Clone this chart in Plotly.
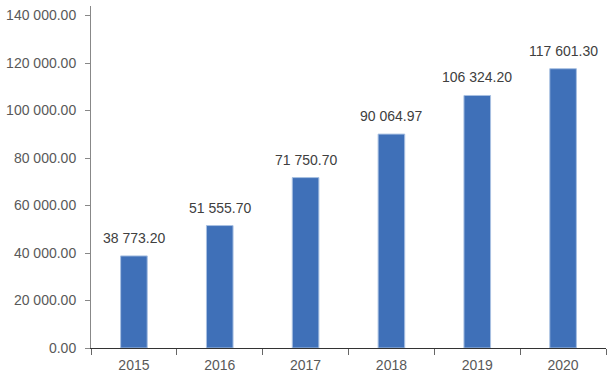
import plotly.graph_objects as go

years = ["2015", "2016", "2017", "2018", "2019", "2020"]
values = [38773.20, 51555.70, 71750.70, 90064.97, 106324.20, 117601.30]
y_ticks = [0, 20000, 40000, 60000, 80000, 100000, 120000, 140000]

def fmt(v):
    return f"{v:,.2f}".replace(",", " ")

fig = go.Figure(go.Bar(
    x=years, y=values,
    marker=dict(color="#3F70B8", line=dict(color="#A8C0E2", width=1)),
    hoverinfo="x+y",
))

for i, v in enumerate(values):
    fig.add_annotation(
        x=i, y=v, text=fmt(v), showarrow=False,
        yanchor="bottom", yshift=8,
        font=dict(color="#404040", size=14),
    )

fig.update_layout(
    width=610, height=380,
    margin=dict(l=91, r=4, t=6, b=32, autoexpand=False),
    paper_bgcolor="white", plot_bgcolor="white",
    font=dict(family="Liberation Sans, Arial, sans-serif", color="#595959", size=14),
    separators=". ",
    bargap=0.69,
    showlegend=False,
)
fig.update_xaxes(
    type="category", categoryorder="array", categoryarray=years,
    range=[-0.5, len(years) - 0.5],
    showline=True, linecolor="#333333", linewidth=1,
    ticks="outside", tickson="boundaries", ticklen=6, tickcolor="#666666",
    showgrid=False, tickfont=dict(size=14, color="#595959"), automargin=False,
    ticklabelstandoff=4,
)
fig.update_yaxes(
    range=[0, 144000], tickvals=y_ticks, tickformat=",.2f",
    showline=True, linecolor="#888888", linewidth=1,
    ticks="outside", ticklen=5, tickcolor="#888888",
    showgrid=False, zeroline=False, tickfont=dict(size=14, color="#595959"),
    automargin=False, ticklabelstandoff=6,
)

fig.write_html("out.html", config={"displayModeBar": False},
               post_script="document.body.style.margin='0';")
